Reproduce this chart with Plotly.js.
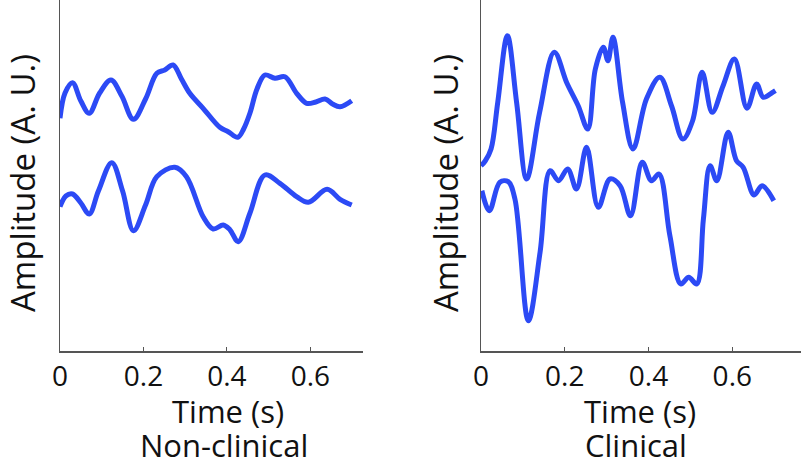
<!DOCTYPE html>
<html><head><meta charset="utf-8">
<script src="https://cdn.plot.ly/plotly-3.0.1.min.js"></script>
<style>html,body{margin:0;padding:0;background:#fff}#c{width:801px;height:466px}</style>
</head><body><div id="c"></div>
<script>
// Non-clinical (left) traces: time (s) and amplitude (A. U.)
const ncTopT = [0,0.012,0.030,0.050,0.070,0.095,0.122,0.148,0.176,0.205,0.232,0.251,0.271,0.291,0.311,0.343,0.383,0.403,0.426,0.440,0.455,0.472,0.491,0.515,0.539,0.567,0.591,0.613,0.635,0.653,0.671,0.699];
const ncTopA = [232.7,258,268.3,250,237.7,258,271,255,231.7,252,277.7,281,286,272,257.7,242.7,223.7,219.3,213.7,222,237.7,262,276,272.7,274.3,257.7,247.7,249,252,247,244.3,250.3];
const ncBotT = [0,0.014,0.030,0.050,0.070,0.092,0.124,0.150,0.176,0.205,0.232,0.275,0.303,0.343,0.367,0.391,0.407,0.427,0.455,0.491,0.527,0.567,0.595,0.640,0.671,0.699];
const ncBotA = [144.3,155,157,148,137,160,188.3,160,120.3,146,174.3,183.7,174.3,134.3,122,126,121.3,109.3,137.7,176,167.7,154.3,148.7,161.7,151.7,146];
// Clinical (right) traces
const clTopT = [0,0.010,0.024,0.040,0.063,0.085,0.109,0.140,0.175,0.205,0.232,0.255,0.273,0.292,0.303,0.315,0.338,0.363,0.395,0.427,0.455,0.482,0.505,0.528,0.552,0.578,0.605,0.635,0.658,0.674,0.694,0.703];
const clTopA = [185.3,190,202,248.7,315.3,248.7,172,238.7,298.7,268,245.3,222,282,303.7,290.3,313.7,248.7,202,252,273.7,245,212,230,278.7,238.7,265.3,292,242.7,267,253.7,258,260.3];
const clBotT = [0.002,0.020,0.045,0.065,0.081,0.113,0.141,0.165,0.185,0.207,0.228,0.252,0.280,0.308,0.332,0.357,0.385,0.407,0.425,0.451,0.477,0.496,0.515,0.531,0.547,0.563,0.590,0.610,0.626,0.652,0.671,0.699];
const clBotA = [160.3,140.3,168.7,169.3,152,30.3,98.7,180.3,170.3,182,162,203.7,143.7,172,165.3,135.3,188.7,170.3,177,115.3,67,73.7,67,132,185.3,170.3,218.7,190.3,183.7,156,165.3,150.3];
const xTicks = [0,0.2,0.4,0.6];
const xTickText = ["0","0.2","0.4","0.6"];
</script>
<script>
const blue = "rgb(44,74,245)";
const font = "'Open Sans', sans-serif";
function tr(x,y,xa,ya){return {x:x,y:y,xaxis:xa,yaxis:ya,type:"scatter",mode:"lines",
  line:{color:blue,width:5,shape:"spline",smoothing:1.0},hoverinfo:"skip",showlegend:false};}
const data = [tr(ncTopT,ncTopA,"x","y"),tr(ncBotT,ncBotA,"x","y"),
              tr(clTopT,clTopA,"x2","y2"),tr(clBotT,clBotA,"x2","y2")];
function xa(dom,rng){return {domain:dom,range:rng,showline:true,linecolor:"#555",linewidth:1.5,
  ticks:"inside",ticklen:4,tickcolor:"#555",tickvals:xTicks,ticktext:xTickText,showgrid:false,zeroline:false,
  tickfont:{family:font,size:28,color:"#111"},fixedrange:true};}
function ya(dom,rng,anchor){return {domain:dom,range:rng,showline:true,linecolor:"#555",linewidth:1.5,
  ticks:"",showticklabels:false,showgrid:false,zeroline:false,anchor:anchor,fixedrange:true};}
const yd=[(466-351)/466,1];
function ann(t,x,y,size,ang){const a={text:t,xref:"paper",yref:"paper",x:x/801,y:1-y/466,showarrow:false,
  font:{family:font,size:size,color:"#111"},xanchor:"center",yanchor:"middle"};
  if(ang!==undefined){a.textangle=ang;} return a;}
const layout = {width:801,height:466,margin:{l:0,r:0,t:0,b:0},paper_bgcolor:"#fff",plot_bgcolor:"#fff",
  xaxis:xa([60/801,363/801],[0,0.726]), yaxis:ya(yd,[0,351],"x"),
  xaxis2:xa([481/801,1],[0,0.764]), yaxis2:ya(yd,[0,351],"x2"),
  annotations:[
    ann("Time (s)",228,411,31),
    ann("Non-clinical",224,445,31),
    ann("Time (s)",640,411,31),
    ann("Clinical",636,445,31),
    ann("Amplitude (A. U.)",22,183,33,-90),
    ann("Amplitude (A. U.)",445,183,33,-90)
  ]};
Plotly.newPlot("c",data,layout,{staticPlot:true,displayModeBar:false});
</script></body></html>
